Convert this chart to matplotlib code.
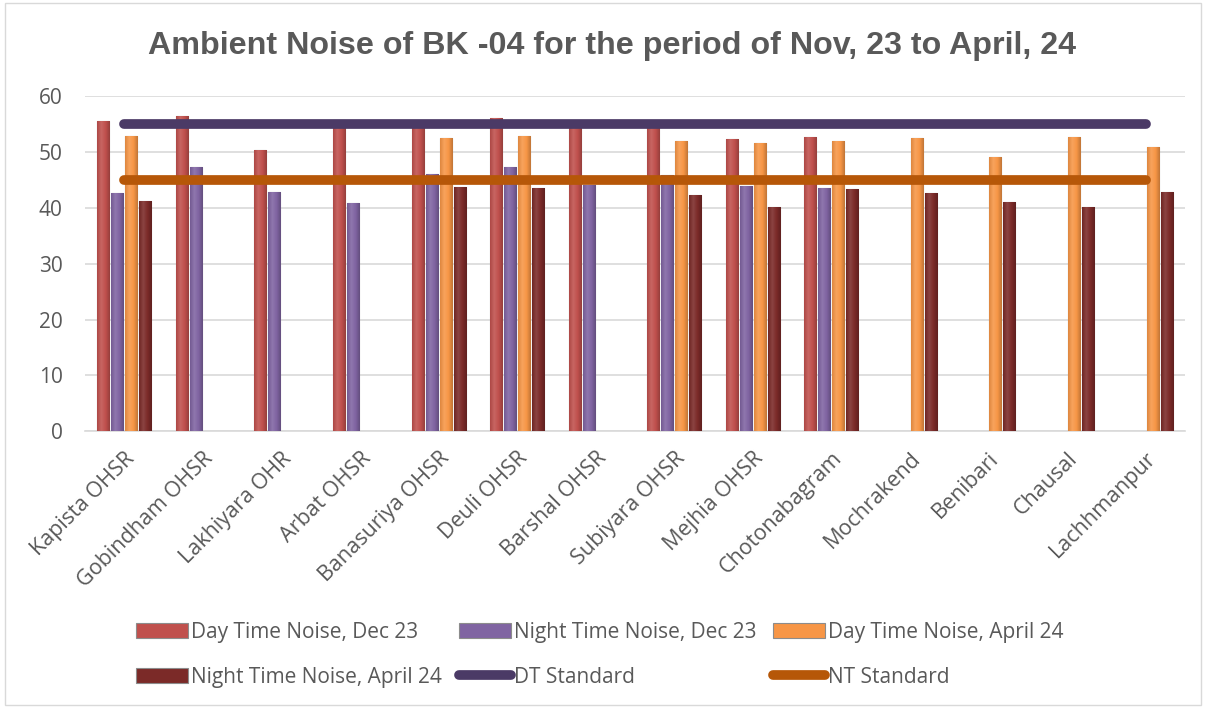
"""
Ambient noise at BK-04 sites, Dec 23 vs April 24, with day/night standards.
"""

import matplotlib
matplotlib.use('Agg')
import matplotlib.pyplot as plt
from matplotlib.colors import LinearSegmentedColormap, to_rgb
from matplotlib.patches import Rectangle
import numpy as np

sites = ['Kapista OHSR', 'Gobindham OHSR', 'Lakhiyara OHR', 'Arbat OHSR',
         'Banasuriya OHSR', 'Deuli OHSR', 'Barshal OHSR', 'Subiyara OHSR',
         'Mejhia OHSR', 'Chotonabagram', 'Mochrakend', 'Benibari', 'Chausal',
         'Lachhmanpur']

nan = np.nan
day_dec23 = [55.5, 56.4, 50.3, 55.7, 54.5, 56.1, 54.4, 54.5, 52.4, 52.7, nan, nan, nan, nan]
night_dec23 = [42.7, 47.3, 42.9, 40.9, 46.0, 47.4, 44.1, 45.9, 43.9, 43.6, nan, nan, nan, nan]
day_apr24 = [52.8, nan, nan, nan, 52.5, 52.9, nan, 51.9, 51.6, 51.9, 52.5, 49.2, 52.7, 51.0]
night_apr24 = [41.3, nan, nan, nan, 43.8, 43.6, nan, 42.3, 40.2, 43.3, 42.7, 41.1, 40.2, 42.9]
dt_standard = [55] * len(sites)
nt_standard = [45] * len(sites)

series = [
    ('Day Time Noise, Dec 23', day_dec23, '#C0504D'),
    ('Night Time Noise, Dec 23', night_dec23, '#8064A2'),
    ('Day Time Noise, April 24', day_apr24, '#F79646'),
    ('Night Time Noise, April 24', night_apr24, '#7B2A28'),
]

txt = '#595959'
plt.rcParams['font.family'] = ['Open Sans', 'DejaVu Sans']


def shade(col, f):
    c = np.array(to_rgb(col))
    if f >= 0:
        return tuple(c + (1 - c) * f)
    return tuple(c * (1 + f))


fig = plt.figure(figsize=(12.06, 7.08), dpi=100)
ax = fig.add_axes([0.0705, 0.391, 0.912, 0.473])

x = np.arange(len(sites))
step = 0.178
width = 0.153
bars = []
for i, (name, vals, col) in enumerate(series):
    pos = x + (i - 1.5) * step
    b = ax.bar(pos, vals, width, color=col, edgecolor='#8c8c8c', linewidth=0.8,
               label=name, zorder=3)
    bars.append(b)
    # glossy cylinder look: horizontal gradient clipped to each bar
    cmap = LinearSegmentedColormap.from_list(
        'g', [shade(col, -0.1), shade(col, 0.12), col, shade(col, -0.22)])
    grad = np.linspace(0, 1, 64).reshape(1, -1)
    for rect, v in zip(b, vals):
        if np.isnan(v):
            continue
        im = ax.imshow(grad, cmap=cmap, aspect='auto', zorder=3.5,
                       extent=(rect.get_x(), rect.get_x() + rect.get_width(), 0, v))
        im.set_clip_path(rect)

dt, = ax.plot(x, dt_standard, color='#4B3A66', lw=7, solid_capstyle='round',
              label='DT Standard', zorder=5)
nt, = ax.plot(x, nt_standard, color='#B65708', lw=7, solid_capstyle='round',
              label='NT Standard', zorder=5)

ax.set_ylim(0, 60)
ax.set_xlim(-0.5, len(sites) - 0.5)
ax.set_yticks(range(0, 61, 10))
ax.yaxis.grid(True, color='#D9D9D9', lw=1.2, zorder=0)
for s in ['top', 'right', 'left']:
    ax.spines[s].set_visible(False)
ax.spines['bottom'].set_color('#D9D9D9')
ax.spines['bottom'].set_linewidth(1.2)
ax.tick_params(axis='y', length=0, labelsize=15, colors=txt, pad=16)
ax.tick_params(axis='x', length=0, labelsize=15.5, colors=txt, pad=12)
ax.set_xticks(x)
ax.set_xticklabels(sites, rotation=45, ha='right', rotation_mode='anchor')

fig.text(0.5075, 0.935, 'Ambient Noise of BK -04 for the period of Nov, 23 to April, 24',
         ha='center', va='center', fontsize=23.2, fontweight='bold', color=txt,
         family=['Liberation Sans', 'DejaVu Sans'])

handles = [bars[0], bars[3], bars[1], dt, bars[2], nt]
labels = [h.get_label() for h in handles]
fig.legend(handles, labels, ncol=3, loc='center', bbox_to_anchor=(0.4975, 0.0755),
           frameon=False, fontsize=15, labelcolor=txt, handlelength=2.5,
           handletextpad=0.15, columnspacing=0.8, labelspacing=1.15)

fig.patches.append(Rectangle((0.004, 0.004), 0.992, 0.992, transform=fig.transFigure,
                             fill=False, edgecolor='#D9D9D9', lw=1))

fig.savefig('out.png', dpi=100)
